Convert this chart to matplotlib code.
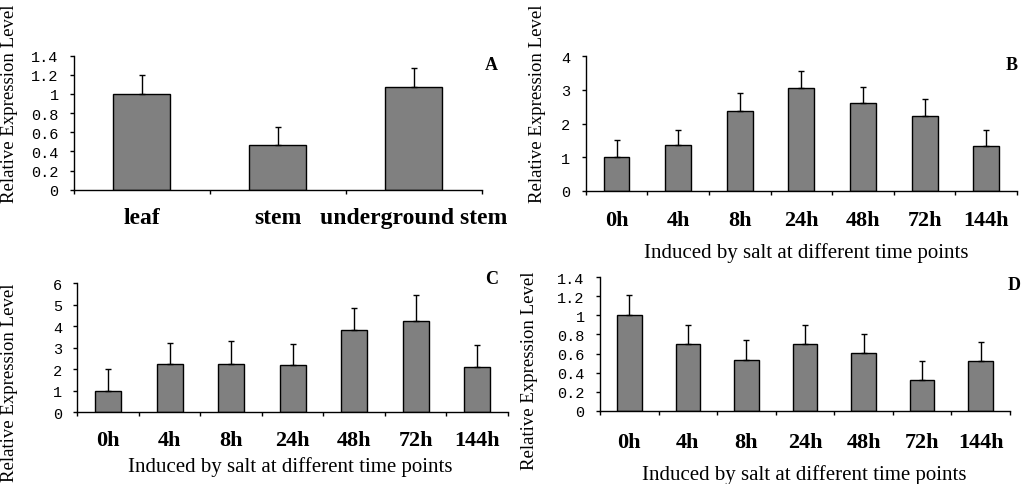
import matplotlib
matplotlib.use("Agg")
import matplotlib.pyplot as plt
import numpy as np

W, H = 1024, 485

# ---- data ----
cats_A = ["leaf", "stem", "underground stem"]
vals_A = [1.00, 0.47, 1.07]
err_A = [0.20, 0.18, 0.20]

times = ["0h", "4h", "8h", "24h", "48h", "72h", "144h"]
vals_B = [1.00, 1.36, 2.38, 3.06, 2.60, 2.23, 1.33]
err_B = [0.52, 0.46, 0.53, 0.49, 0.50, 0.50, 0.49]

vals_C = [0.97, 2.26, 2.26, 2.20, 3.83, 4.25, 2.12]
err_C = [1.03, 0.98, 1.04, 0.98, 1.01, 1.22, 1.01]

vals_D = [1.00, 0.70, 0.53, 0.70, 0.61, 0.32, 0.52]
err_D = [0.21, 0.20, 0.21, 0.20, 0.20, 0.20, 0.20]

yticks_A = [0, 0.2, 0.4, 0.6, 0.8, 1.0, 1.2, 1.4]
yticklabels_A = ["0", "0.2", "0.4", "0.6", "0.8", "1", "1.2", "1.4"]
yticks_B = [0, 1, 2, 3, 4]
yticks_C = [0, 1, 2, 3, 4, 5, 6]
yticks_D = yticks_A
yticklabels_D = yticklabels_A

xlabel_text = "Induced by salt at different time points"
ylabel_text = "Relative Expression Level"

SERIF = "Liberation Serif"
MONO = "Liberation Mono"

fig = plt.figure(figsize=(W / 100, H / 100), dpi=100)


def rect(l, r, top, bottom):
    # pixel coords -> figure fraction
    return [l / W, 1 - bottom / H, (r - l) / W, (bottom - top) / H]


def panel(pos, cats, vals, errs, yticks, ylabels, ylim, xfs, xpad):
    ax = fig.add_axes(pos)
    x = np.arange(len(cats))
    ax.bar(x, vals, width=0.42, color="#808080", edgecolor="black", linewidth=1.0, zorder=2)
    ax.errorbar(x, vals, yerr=[np.zeros(len(vals)), errs], fmt="none", ecolor="black",
                elinewidth=1.0, capsize=2.5, capthick=1.0, zorder=3)
    ax.set_xlim(-0.5, len(cats) - 0.5)
    ax.set_ylim(*ylim)
    for s in ["top", "right"]:
        ax.spines[s].set_visible(False)
    for s in ["left", "bottom"]:
        ax.spines[s].set_linewidth(1.0)
        ax.spines[s].set_color("black")
    ax.set_xticks(x)
    ax.set_xticklabels(cats, fontfamily=SERIF, fontweight="bold", fontsize=xfs)
    ax.set_xticks(np.arange(len(cats) + 1) - 0.5, minor=True)
    ax.tick_params(axis="x", which="major", length=0, pad=xpad)
    ax.tick_params(axis="x", which="minor", length=3, direction="out", width=1)
    ax.set_yticks(yticks)
    ax.set_yticklabels(ylabels, fontfamily=MONO, fontsize=11)
    ax.tick_params(axis="y", length=3, direction="out", width=1, pad=8)
    return ax


axA = panel(rect(74, 481.7, 56.7, 190.7), cats_A, vals_A, err_A, yticks_A, yticklabels_A,
            (0, 1.4), 17, 12.5)
axB = panel(rect(585.7, 1017, 57.3, 191.7), times, vals_B, err_B, yticks_B,
            [str(t) for t in yticks_B], (0, 4), 16, 14)
axC = panel(rect(77.3, 508, 284.3, 413.3), times, vals_C, err_C, yticks_C,
            [str(t) for t in yticks_C], (0, 6), 16, 13)
axD = panel(rect(600, 1010, 278.3, 411.7), times, vals_D, err_D, yticks_D, yticklabels_D,
            (0, 1.4), 16, 15)


def ftext(px, py, s, **kw):
    fig.text(px / W, 1 - py / H, s, **kw)


# panel letters
for (px, py, s) in [(491, 66, "A"), (1012, 66, "B"), (492, 280, "C"), (1014, 286, "D")]:
    ftext(px, py, s, fontfamily=SERIF, fontweight="bold", fontsize=13, ha="center", va="center")

# y labels
for (px, py) in [(10, 203), (537, 203), (10, 482), (530, 470)]:
    ftext(px, py, ylabel_text, fontfamily=SERIF, fontsize=13.5, rotation=90, ha="center", va="bottom")

# x labels
for (px, py) in [(806, 253), (290, 467), (804, 475)]:
    ftext(px, py, xlabel_text, fontfamily=SERIF, fontsize=15, ha="center", va="center")

fig.savefig("out.png", dpi=100)
